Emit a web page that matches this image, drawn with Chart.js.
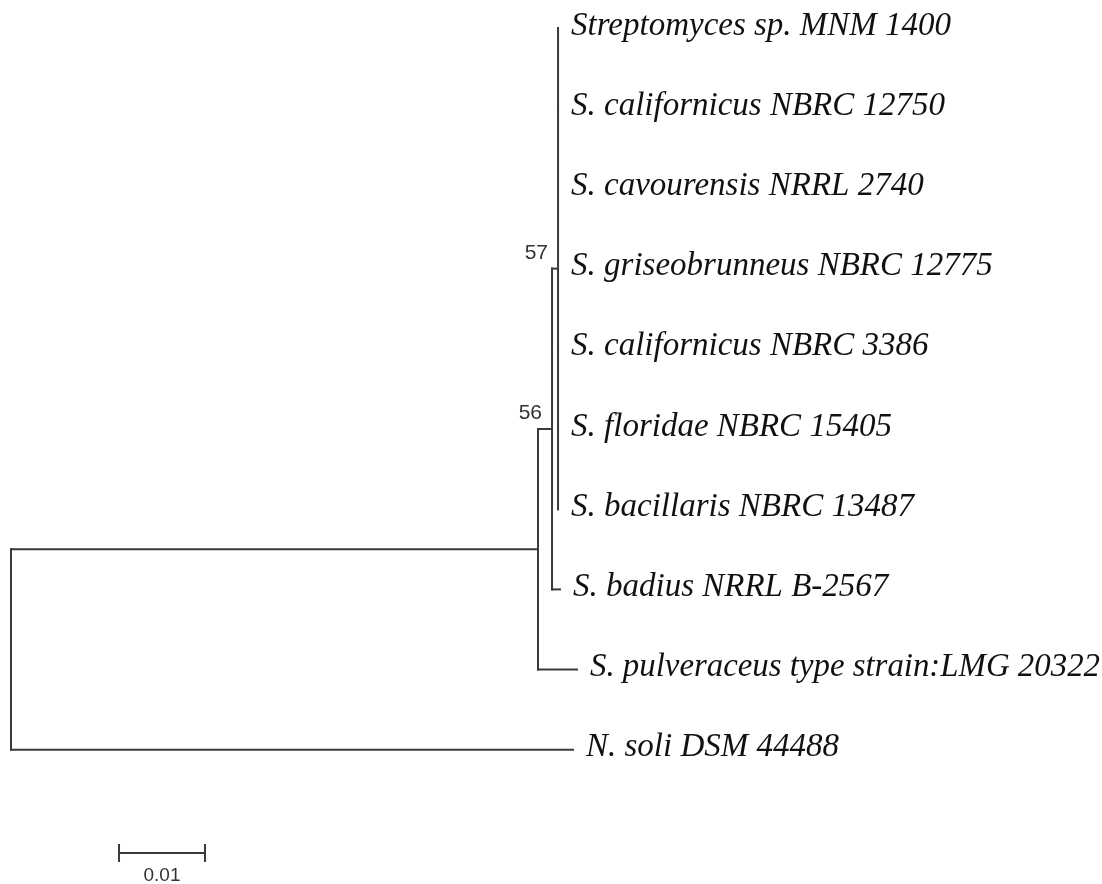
<!DOCTYPE html>
<html>
<head>
<meta charset="utf-8">
<script src="https://cdn.jsdelivr.net/npm/chart.js@4.4.1/dist/chart.umd.min.js"></script>
<style>
html,body{margin:0;padding:0;background:#fff;}
#wrap{width:1102px;height:884px;}
</style>
</head>
<body>
<div id="wrap"><canvas id="c" width="1102" height="884"></canvas></div>
<script>
const taxa = [
  "Streptomyces sp. MNM 1400",
  "S. californicus NBRC 12750",
  "S. cavourensis NRRL 2740",
  "S. griseobrunneus NBRC 12775",
  "S. californicus NBRC 3386",
  "S. floridae NBRC 15405",
  "S. bacillaris NBRC 13487",
  "S. badius NRRL B-2567",
  "S. pulveraceus type strain:LMG 20322",
  "N. soli DSM 44488"
];
const taxonParent = ["p","p","p","p","p","p","p","n57","n56","root"];
const taxonBranch = [0,0,0,0,0,0,0,0.00093,0.00453,0.06535];

const nodeIds     = ["root","n56","n57","p"];
const nodeParent  = [null,"root","n56","n57"];
const nodeBranch  = [0,0.06128,0.00163,0.0007];
const bootstrap   = [null,null,56,57];

const scaleBarLength = 0.01;
const scaleBarLabel  = "0.01";

// ---- Derive tree geometry from the data ----
const nodeX = {}, nodeY = {};
nodeIds.forEach((id,i)=>{
  const par = nodeParent[i];
  nodeX[id] = (par===null ? 0 : nodeX[par]) + nodeBranch[i];
});
const taxonX = taxa.map((t,i)=> nodeX[taxonParent[i]] + taxonBranch[i]);
const taxonY = taxa.map((t,i)=> i);
const childrenY = {};
nodeIds.forEach(id=>childrenY[id]=[]);
taxa.forEach((t,i)=>childrenY[taxonParent[i]].push(taxonY[i]));
for (let i=nodeIds.length-1;i>=0;i--){
  const id = nodeIds[i];
  const ys = childrenY[id];
  nodeY[id] = (Math.min(...ys)+Math.max(...ys))/2;
  if (nodeParent[i]!==null) childrenY[nodeParent[i]].push(nodeY[id]);
}

const lineColor = "#3a3a3a";
const segs = [];
taxa.forEach((t,i)=>{
  const px = nodeX[taxonParent[i]];
  segs.push([{x:px,y:taxonY[i]},{x:taxonX[i],y:taxonY[i]}]);
});
nodeIds.forEach((id,i)=>{
  if (nodeParent[i]!==null){
    segs.push([{x:nodeX[nodeParent[i]],y:nodeY[id]},{x:nodeX[id],y:nodeY[id]}]);
  }
  const ys = childrenY[id];
  segs.push([{x:nodeX[id],y:Math.min(...ys)},{x:nodeX[id],y:Math.max(...ys)}]);
});

// scale bar position (in data units)
const sbX0 = 0.01256, sbY = 10.287, sbTick = 0.1;
segs.push([{x:sbX0,y:sbY},{x:sbX0+scaleBarLength,y:sbY}]);
segs.push([{x:sbX0,y:sbY-sbTick},{x:sbX0,y:sbY+sbTick}]);
segs.push([{x:sbX0+scaleBarLength,y:sbY-sbTick},{x:sbX0+scaleBarLength,y:sbY+sbTick}]);

const datasets = segs.map(s=>({
  data:s, showLine:true, borderColor:lineColor, borderWidth:2,
  pointRadius:0, pointHoverRadius:0, fill:false, clip:false,
  borderCapStyle:'square', tension:0
}));

const labelPlugin = {
  id:'treeLabels',
  afterDatasetsDraw(chart){
    const ctx = chart.ctx, xs = chart.scales.x, ys = chart.scales.y;
    ctx.save();
    ctx.fillStyle = "#111";
    ctx.font = 'italic 33px "Liberation Serif", "Times New Roman", serif';
    ctx.textAlign = 'left';
    ctx.textBaseline = 'alphabetic';
    taxa.forEach((t,i)=>{
      const x = xs.getPixelForValue(taxonX[i]) + 13;
      ctx.fillText(t, x, ys.getPixelForValue(taxonY[i]) + 6.5, chart.width - 2 - x);
    });
    ctx.fillStyle = "#333";
    ctx.font = '21px "Liberation Sans", Arial, sans-serif';
    ctx.textAlign = 'right';
    nodeIds.forEach((id,i)=>{
      if (bootstrap[i]==null) return;
      ctx.fillText(String(bootstrap[i]), xs.getPixelForValue(nodeX[id]) - 10, ys.getPixelForValue(nodeY[id]) - 10);
    });
    ctx.font = '19px "Liberation Sans", Arial, sans-serif';
    ctx.textAlign = 'center';
    ctx.fillText(scaleBarLabel, xs.getPixelForValue(sbX0+scaleBarLength/2), ys.getPixelForValue(sbY) + 28);
    ctx.restore();
  }
};

new Chart(document.getElementById('c'), {
  type:'scatter',
  data:{datasets},
  options:{
    responsive:false,
    animation:false,
    devicePixelRatio:1,
    layout:{padding:0},
    plugins:{legend:{display:false}, tooltip:{enabled:false}},
    events:[],
    scales:{
      x:{type:'linear', display:false, min:-11/8600, max:(1102-11)/8600},
      y:{type:'linear', display:false, reverse:true, min:-28/80.2, max:(884-28)/80.2}
    }
  },
  plugins:[labelPlugin]
});
</script>
</body>
</html>
